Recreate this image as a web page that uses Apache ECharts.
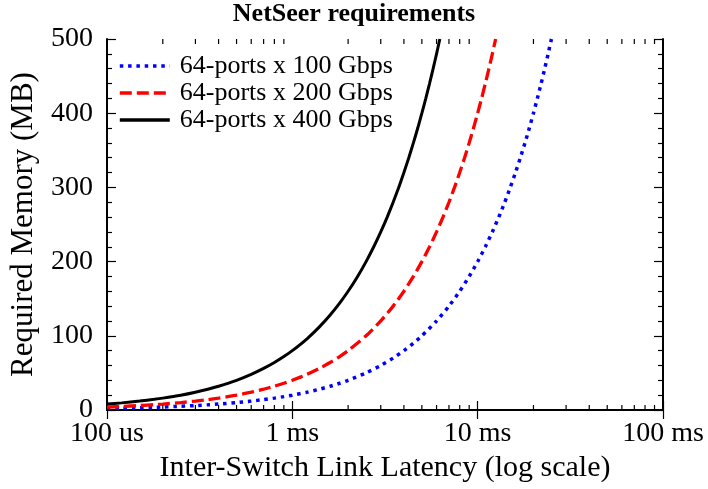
<!DOCTYPE html>
<html>
<head>
<meta charset="utf-8">
<script src="https://cdn.jsdelivr.net/npm/echarts@6/dist/echarts.min.js"></script>
<style>
  html, body { margin: 0; padding: 0; background: #fff; }
  #chart { width: 708px; height: 489px; }
</style>
</head>
<body>
<div id="chart"></div>
<script>
// Link latency in ms and required memory in MB, one pair of arrays per port speed
const lat100 = [0.1, 0.12, 0.15, 0.18, 0.2, 0.25, 0.3, 0.35, 0.4, 0.5, 0.6, 0.7, 0.8, 0.9, 1,
  1.2, 1.4, 1.6, 1.8, 2, 2.5, 3, 3.5, 4, 4.5, 5, 6, 7, 8, 9,
  10, 11, 12, 13, 14, 15, 16, 17, 18, 19, 20, 21, 22, 23, 24, 25];
const mem100 = [2, 2.4, 3, 3.6, 4, 5, 6, 7, 8, 10, 12, 14, 16, 18, 20,
  24, 28, 32, 36, 40, 50, 60, 70, 80, 90, 100, 120, 140, 160, 180,
  200, 220, 240, 260, 280, 300, 320, 340, 360, 380, 400, 420, 440, 460, 480, 500];

const lat200 = [0.1, 0.12, 0.15, 0.18, 0.2, 0.25, 0.3, 0.35, 0.4, 0.5, 0.6, 0.7, 0.8, 0.9, 1,
  1.2, 1.4, 1.6, 1.8, 2, 2.5, 3, 3.5, 4, 4.5, 5, 5.5, 6, 6.5, 7,
  7.5, 8, 8.5, 9, 9.5, 10, 10.5, 11, 11.5, 12, 12.5];
const mem200 = [4, 4.8, 6, 7.2, 8, 10, 12, 14, 16, 20, 24, 28, 32, 36, 40,
  48, 56, 64, 72, 80, 100, 120, 140, 160, 180, 200, 220, 240, 260, 280,
  300, 320, 340, 360, 380, 400, 420, 440, 460, 480, 500];

const lat400 = [0.1, 0.12, 0.15, 0.18, 0.2, 0.25, 0.3, 0.35, 0.4, 0.5, 0.6, 0.7, 0.8, 0.9, 1,
  1.2, 1.4, 1.6, 1.8, 2, 2.25, 2.5, 2.75, 3, 3.25, 3.5, 3.75, 4, 4.25, 4.5,
  4.75, 5, 5.25, 5.5, 5.75, 6, 6.25];
const mem400 = [8, 9.6, 12, 14.4, 16, 20, 24, 28, 32, 40, 48, 56, 64, 72, 80,
  96, 112, 128, 144, 160, 180, 200, 220, 240, 260, 280, 300, 320, 340, 360,
  380, 400, 420, 440, 460, 480, 500];

const seriesNames = ['64-ports x 100 Gbps', '64-ports x 200 Gbps', '64-ports x 400 Gbps'];

// Major latency ticks (ms) and their labels
const xTickValues = [0.1, 1, 10, 100];
const xTickLabels = ['100 us', '1 ms', '10 ms', '100 ms'];

// Minor log ticks at 2..9 within each decade
const xMinorTicks = [0.2, 0.3, 0.4, 0.5, 0.6, 0.7, 0.8, 0.9,
  2, 3, 4, 5, 6, 7, 8, 9,
  20, 30, 40, 50, 60, 70, 80, 90];

const FONT = 'Liberation Serif';

function pairs(xs, ys) { return xs.map(function (x, i) { return [x, ys[i]]; }); }

function labelFor(v) {
  for (let i = 0; i < xTickValues.length; i++) {
    if (Math.abs(Math.log10(v) - Math.log10(xTickValues[i])) < 1e-6) return xTickLabels[i];
  }
  return '';
}

const axisLine = { show: true, lineStyle: { color: '#000', width: 2 } };
const majorTick = { show: true, inside: true, length: 9, lineStyle: { color: '#000', width: 1.2 } };
const minorTick = { show: true, splitNumber: 5, length: 5, lineStyle: { color: '#000', width: 1.2 } };

const chart = echarts.init(document.getElementById('chart'), null, { renderer: 'canvas' });

chart.setOption({
  animation: false,
  backgroundColor: '#fff',
  title: {
    text: 'NetSeer requirements',
    left: 'center',
    top: -4,
    textStyle: { fontFamily: FONT, fontWeight: 'bold', fontSize: 26, color: '#000' }
  },
  grid: { left: 100, right: 45, top: 39, bottom: 79 },
  legend: {
    data: seriesNames,
    orient: 'vertical',
    left: 118,
    top: 53,
    padding: 0,
    itemWidth: 50,
    itemHeight: 14,
    itemGap: 1,
    itemStyle: { color: 'transparent', borderColor: 'transparent', borderWidth: 0 },
    lineStyle: { width: 3.6 },
    textStyle: { fontFamily: FONT, fontSize: 26, color: '#000', padding: [0, 0, 0, 5] }
  },
  xAxis: [
    {
      type: 'log', logBase: 10, min: 0.1, max: 100,
      position: 'bottom',
      axisLine: axisLine,
      axisTick: majorTick,
      axisLabel: {
        margin: 10, fontFamily: FONT, fontSize: 28, color: '#000',
        formatter: function (v) { return labelFor(v); }
      },
      splitLine: { show: false },
      name: 'Inter-Switch Link Latency (log scale)',
      nameLocation: 'middle',
      nameGap: 42,
      nameTextStyle: { fontFamily: FONT, fontSize: 30, color: '#000' }
    },
    {
      type: 'log', logBase: 10, min: 0.1, max: 100,
      position: 'top',
      axisLine: axisLine,
      axisTick: majorTick,
      axisLabel: { show: false },
      splitLine: { show: false }
    }
  ],
  yAxis: [
    {
      type: 'value', min: 0, max: 500, interval: 100,
      position: 'left',
      axisLine: axisLine,
      axisTick: majorTick,
      minorTick: minorTick,
      axisLabel: { margin: 14, fontFamily: FONT, fontSize: 28, color: '#000' },
      splitLine: { show: false },
      name: 'Required Memory (MB)',
      nameLocation: 'middle',
      nameRotate: 90,
      nameGap: 68,
      nameTextStyle: { fontFamily: FONT, fontSize: 31, color: '#000' }
    },
    {
      type: 'value', min: 0, max: 500, interval: 100,
      position: 'right',
      axisLine: axisLine,
      axisTick: majorTick,
      minorTick: minorTick,
      axisLabel: { show: false },
      splitLine: { show: false }
    }
  ],
  series: [
    {
      name: seriesNames[0], type: 'line', data: pairs(lat100, mem100),
      showSymbol: false, symbol: 'none', smooth: 0.2,
      lineStyle: { color: '#0000ff', width: 3.5, type: [3.5, 4.8], cap: 'butt' },
      itemStyle: { color: '#0000ff' }, z: 3
    },
    {
      name: seriesNames[1], type: 'line', data: pairs(lat200, mem200),
      showSymbol: false, symbol: 'none', smooth: 0.2,
      lineStyle: { color: '#ff0000', width: 3.3, type: [12, 5], cap: 'butt' },
      itemStyle: { color: '#ff0000' }, z: 3
    },
    {
      name: seriesNames[2], type: 'line', data: pairs(lat400, mem400),
      showSymbol: false, symbol: 'none', smooth: 0.2,
      lineStyle: { color: '#000000', width: 3, type: 'solid' },
      itemStyle: { color: '#000000' }, z: 3
    },
    {
      // minor log ticks on the bottom and top x axes
      name: 'minorTicks', type: 'custom',
      data: xMinorTicks.map(function (v) { return [v]; }),
      silent: true, z: 5, clip: false,
      renderItem: function (params, api) {
        const v = api.value(0);
        const b = api.coord([v, 0]);
        const t = api.coord([v, 500]);
        const style = { stroke: '#000', lineWidth: 1.2 };
        return {
          type: 'group',
          children: [
            { type: 'line', shape: { x1: b[0], y1: b[1], x2: b[0], y2: b[1] - 5 }, style: style },
            { type: 'line', shape: { x1: t[0], y1: t[1], x2: t[0], y2: t[1] + 5 }, style: style }
          ]
        };
      }
    }
  ]
});
</script>
</body>
</html>
